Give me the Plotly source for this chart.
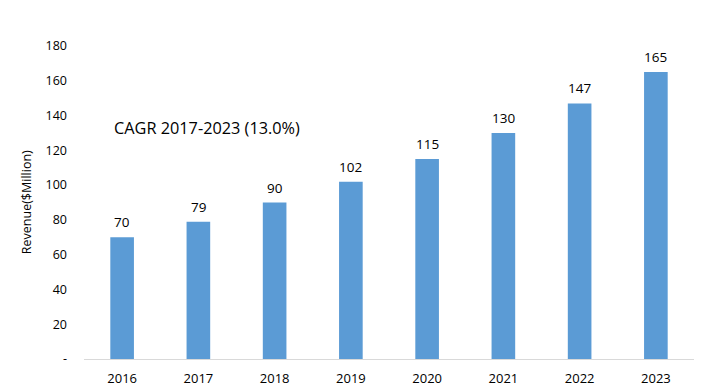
import plotly.graph_objects as go

years = ["2016", "2017", "2018", "2019", "2020", "2021", "2022", "2023"]
revenue = [70, 79, 90, 102, 115, 130, 147, 165]
y_ticks = [0, 20, 40, 60, 80, 100, 120, 140, 160, 180]
y_ticktext = ["-", "20", "40", "60", "80", "100", "120", "140", "160", "180"]

FONT = "Open Sans, Liberation Sans, sans-serif"

fig = go.Figure(go.Bar(
    x=years, y=revenue,
    marker=dict(color="#5B9BD5", line=dict(width=0)),
    width=0.31, hoverinfo="x+y",
))

# value labels above bars (category index positions)
annotations = [dict(x=i, y=v, text=str(v), xref="x", yref="y", showarrow=False,
                    yanchor="middle", yshift=15,
                    font=dict(size=13.5, color="#000000"))
               for i, v in enumerate(revenue)]
annotations.append(dict(text="CAGR 2017-2023 (13.0%)", xref="paper", yref="paper",
                        x=0.046, y=0.738, xanchor="left", yanchor="middle",
                        showarrow=False, font=dict(size=16.3, color="#000000")))
annotations.append(dict(text="Revenue($Million)", xref="paper", yref="paper",
                        x=-0.094, y=0.5, xanchor="center", yanchor="middle",
                        textangle=-90, showarrow=False,
                        font=dict(size=12.5, color="#000000")))

fig.update_layout(
    width=706, height=392,
    margin=dict(l=84, r=12, t=46, b=33),
    plot_bgcolor="white", paper_bgcolor="white",
    showlegend=False,
    font=dict(family=FONT, color="#000000", size=12),
    xaxis=dict(type="category", range=[-0.5, len(years) - 0.5],
               showgrid=False, showline=True,
               linecolor="#D9D9D9", linewidth=1,
               tickfont=dict(size=13), ticks="", ticklabelstandoff=7,
               automargin=False),
    yaxis=dict(range=[0, 180], tickvals=y_ticks, ticktext=y_ticktext,
               showgrid=False, zeroline=False, showline=False,
               tickfont=dict(size=12.5), ticklabelstandoff=16,
               automargin=False),
    annotations=annotations,
)

fig.write_html("out.html",
               config={"displayModeBar": False},
               post_script="document.body.style.margin='0';document.body.style.overflow='hidden';")
